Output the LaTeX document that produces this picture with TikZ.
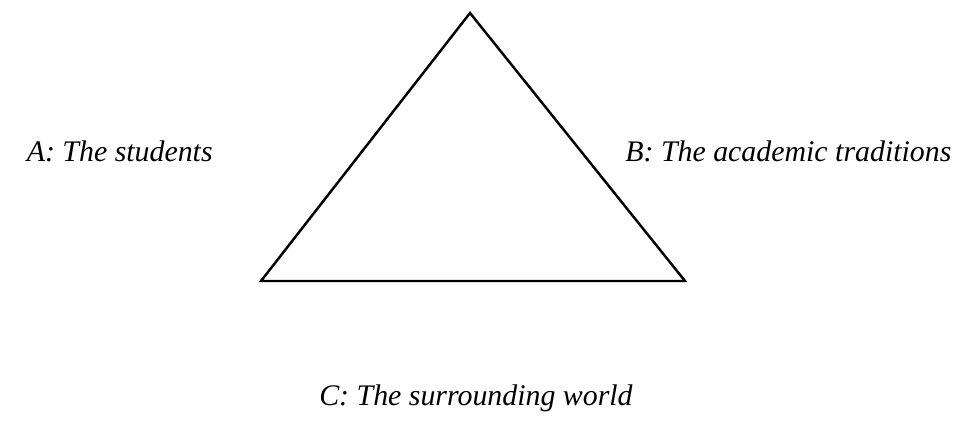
\documentclass[tikz,border=0pt]{standalone}
\usepackage{fontspec}
\setmainfont{Liberation Serif}
\usetikzlibrary{positioning}
\begin{document}
\begin{tikzpicture}[x=0.02cm,y=0.02cm]

\useasboundingbox (0,0) rectangle (966,421);

\tikzset{corner/.style={font=\fontsize{17}{20}\selectfont\itshape, inner sep=0pt}}

% triangle
\coordinate (top) at (470,408);
\coordinate (left) at (261,140);
\coordinate (right) at (685,140);
\draw[line width=1.4pt, line join=miter] (top) -- (right) -- (left) -- cycle;

% labels
\node[corner, anchor=base east] (students) at (213,259) {A: The students};
\node[corner, anchor=base west] (traditions) at (625,259) {B: The academic traditions};
\node[corner, anchor=base] (world) at (476,15) {C: The surrounding world};

\end{tikzpicture}
\end{document}
